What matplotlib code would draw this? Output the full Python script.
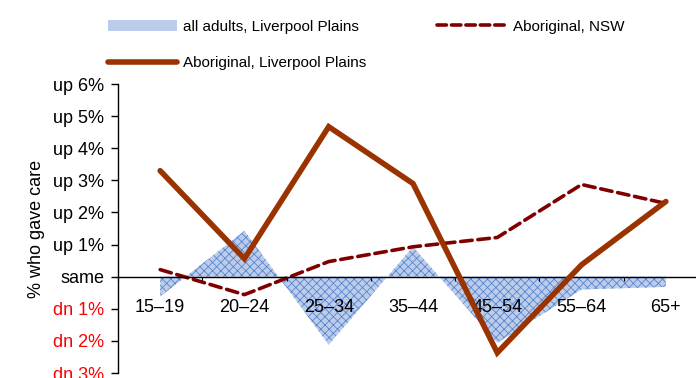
import matplotlib
matplotlib.use("Agg")
import matplotlib.pyplot as plt
from matplotlib.lines import Line2D
from matplotlib.patches import Patch

plt.rcParams['font.family'] = ['Liberation Sans Narrow', 'Liberation Sans', 'DejaVu Sans']
plt.rcParams['hatch.color'] = '#5a84cc'
plt.rcParams['hatch.linewidth'] = 0.6

categories = ['15–19', '20–24', '25–34', '35–44', '45–54', '55–64', '65+']
all_adults_lp = [-0.62, 1.43, -2.12, 0.93, -2.06, -0.40, -0.32]
aboriginal_nsw = [0.22, -0.56, 0.47, 0.93, 1.22, 2.87, 2.28]
aboriginal_lp = [3.30, 0.56, 4.67, 2.90, -2.37, 0.37, 2.34]
ytick_vals = [-3, -2, -1, 0, 1, 2, 3, 4, 5, 6]
ytick_labels = ['dn 3%', 'dn 2%', 'dn 1%', 'same', 'up 1%', 'up 2%', 'up 3%', 'up 4%', 'up 5%', 'up 6%']

fig = plt.figure(figsize=(6.96, 3.78), dpi=100)
ax = fig.add_axes([118/696, 5/378, 590/696, 289/378])
x = list(range(len(categories)))

area_face = '#bccdec'
ax.fill_between(x, 0, all_adults_lp, facecolor=area_face, edgecolor='none',
                hatch='xxxx', linewidth=0, zorder=1)
ax.plot(x, aboriginal_nsw, color='#800000', lw=2.6, dashes=(3.2, 1.6), zorder=2,
        solid_capstyle='round', dash_capstyle='round')
ax.plot(x, aboriginal_lp, color='#9a3300', lw=4.0, zorder=3, solid_capstyle='round',
        solid_joinstyle='miter')

ax.set_xlim(-0.5, 6.5)
ax.set_ylim(-3, 6)
ax.spines['top'].set_visible(False)
ax.spines['right'].set_visible(False)
ax.spines['bottom'].set_position(('data', 0))
ax.spines['bottom'].set_linewidth(1.0)
ax.spines['left'].set_linewidth(1.0)

ax.set_yticks(ytick_vals)
ax.set_yticklabels(ytick_labels, fontsize=13)
for lbl, v in zip(ax.get_yticklabels(), ytick_vals):
    lbl.set_color('red' if v < 0 else 'black')
ax.tick_params(axis='y', direction='out', length=5, width=1, pad=5)

ax.set_xticks(x)
ax.set_xticklabels(categories, fontsize=13)
ax.set_xticks([i + 0.5 for i in range(-1, 7)], minor=True)
ax.tick_params(axis='x', which='major', length=0, pad=16)
ax.tick_params(axis='x', which='minor', direction='out', length=3, width=0.8)

ax.set_ylabel('% who gave care', fontsize=13, labelpad=6)

handles = [
    Patch(facecolor=area_face, hatch='xxxx', edgecolor='none', label='all adults, Liverpool Plains'),
    Line2D([], [], color='#9a3300', lw=4.0, solid_capstyle='round', label='Aboriginal, Liverpool Plains'),
    Line2D([], [], color='#800000', lw=2.6, dashes=(2.6, 1.4), dash_capstyle='round', label='Aboriginal, NSW'),
]
fig.legend(handles=handles, ncol=2, loc='upper left', bbox_to_anchor=(94/696, 1 - 6/378),
           frameon=False, fontsize=11, handlelength=4.5, handleheight=0.8,
           columnspacing=4.6, labelspacing=1.45, handletextpad=0.45)

fig.savefig('out.png', dpi=100)
